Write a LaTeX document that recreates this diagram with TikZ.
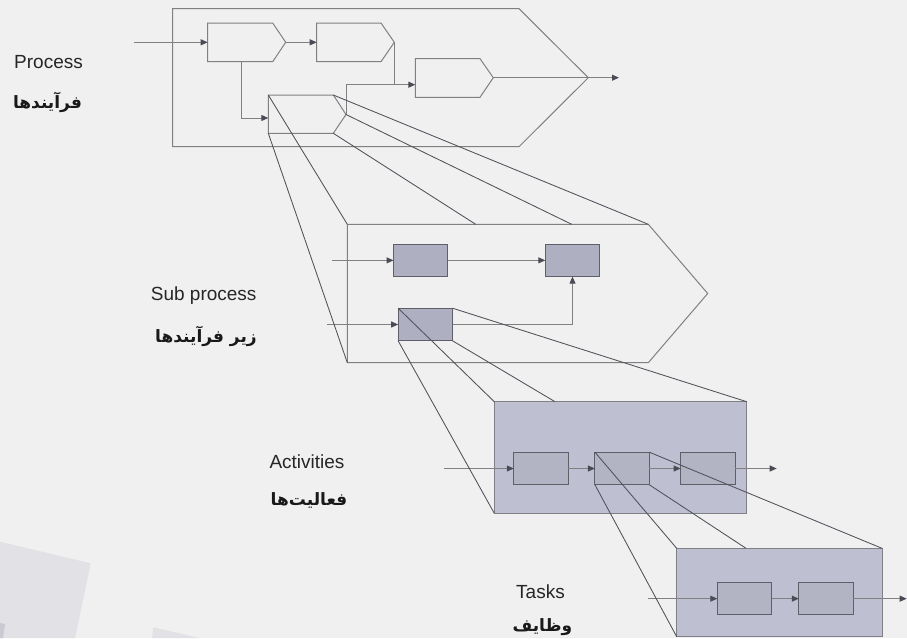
\documentclass[tikz,border=0pt]{standalone}
\usepackage{fontspec}
\setmainfont{Liberation Sans}
\newfontfamily\farsi[Script=Arabic]{DejaVu Sans}
\TeXXeTstate=1
\usetikzlibrary{arrows.meta}
\definecolor{pagebg}{HTML}{F0F0F0}
\definecolor{tilegray}{HTML}{E1E1E6}
\definecolor{tiledark}{HTML}{CACAD2}
\definecolor{linegray}{HTML}{808080}
\definecolor{tipgray}{HTML}{4B4B55}
\definecolor{boxline}{HTML}{5F5F6A}
\definecolor{subfill}{HTML}{AEAFC1}
\definecolor{actfill}{HTML}{BEBFD1}
\definecolor{cellfill}{HTML}{B2B3C3}
\begin{document}
\begin{tikzpicture}[x=1pt,y=-1pt,
  edge/.style={draw=linegray,line width=1pt},
  flow/.style={edge,-{Triangle[length=7pt,width=6pt,color=tipgray]}},
  zoomline/.style={draw=boxline!85!black,line width=0.85pt},
  cell/.style={draw=boxline,line width=1pt,fill=#1,inner sep=0pt,outer sep=0pt,
    minimum width=54.4pt,minimum height=32.6pt},
  frame/.style={draw=boxline!80,line width=1pt,fill=actfill,inner sep=0pt,outer sep=0pt},
  en/.style={anchor=base west,inner sep=0pt,font=\fontsize{19}{22}\selectfont,text=black!85},
  fa/.style={inner sep=0pt,font=\farsi\bfseries\fontsize{17}{20}\selectfont,text=black!90}
]
\useasboundingbox (0,0) rectangle (907,638);
\fill[pagebg] (0,0) rectangle (907,638);

% faint tiles in the lower left corner
\fill[tilegray] (0,541.7) -- (90.7,563.3) -- (75,638) -- (0,638) -- cycle;
\fill[tiledark] (0,623) -- (5,624) -- (3,638) -- (0,638) -- cycle;
\fill[tilegray] (153.3,627.3) -- (199,638) -- (152,638) -- cycle;

% ---------------- Process level ----------------
\draw[edge] (172.7,8.7) coordinate (Pnw) -- (519,8.7) coordinate (Pne)
  -- (588.3,77.7) coordinate (Ptip) -- (519,146.7) coordinate (Pse)
  -- (172.7,146.7) coordinate (Psw) -- cycle;

\draw[edge] (207.7,23) coordinate (p1nw) -- (272.7,23) -- (285.7,42.3) coordinate (p1tip)
  -- (272.7,61.7) -- (207.7,61.7) coordinate (p1sw) -- cycle;
\coordinate (p1w) at (207.7,42.3);
\coordinate (p1s) at (241,61.7);

\draw[edge] (316.7,23) -- (381,23) -- (394.3,42.3) coordinate (p2tip)
  -- (381,61.7) -- (316.7,61.7) -- cycle;
\coordinate (p2w) at (316.7,42.3);

\draw[edge] (415.3,58.7) -- (480,58.7) -- (493.3,77.7) coordinate (p3tip)
  -- (480,97.3) -- (415.3,97.3) -- cycle;
\coordinate (p3w) at (415.3,84.7);

\draw[edge] (268.3,95) coordinate (p4nw) -- (333.3,95) coordinate (p4ne)
  -- (346,114.5) coordinate (p4tip) -- (333.3,133.3) coordinate (p4se)
  -- (268.3,133.3) coordinate (p4sw) -- cycle;
\coordinate (p4w) at (268.3,118);

\coordinate (pin) at (134,42.3);
\coordinate (pout) at (619,77.7);
\coordinate (pjoin) at (394.3,84.7);

\draw[flow] (pin) -- (p1w);
\draw[flow] (p1tip) -- (p2w);
\draw[flow] (p2tip) -- (pjoin) -- (p3w);
\draw[edge] (p4tip) -- (p4tip |- pjoin) -- (pjoin);
\draw[flow] (p1s) -- (p1s |- p4w) -- (p4w);
\draw[edge] (p3tip) -- (Ptip);
\draw[flow] (Ptip) -- (pout);

% ---------------- Sub process level ----------------
\draw[edge] (347.3,224.3) coordinate (Snw) -- (648.3,224.3) coordinate (Sne)
  -- (707.7,293.5) coordinate (Stip) -- (648.3,362.7) coordinate (Sse)
  -- (347.3,362.7) coordinate (Ssw) -- cycle;
\coordinate (Sa) at (475.7,224.3);
\coordinate (Sb) at (571.7,224.3);

\node[cell=subfill] (A) at (420.7,260.35) {};
\node[cell=subfill] (B) at (572.5,260.35) {};
\node[cell=subfill] (C) at (425.35,324.5) {};
\coordinate (ain) at (331.7,260.35);
\coordinate (cin) at (327.3,324.5);

\draw[flow] (ain) -- (A.west);
\draw[flow] (A.east) -- (B.west);
\draw[flow] (cin) -- (C.west);
\draw[flow] (C.east) -- (C.east -| B.south) -- (B.south);

% ---------------- Activities level ----------------
\node[frame,minimum width=252.4pt,minimum height=111.6pt] (R) at (620.5,457.5) {};
\coordinate (Ra) at (555,401.7);
\node[cell=cellfill] (D) at (541,468.5) {};
\node[cell=cellfill] (E) at (622.15,468.5) {};
\node[cell=cellfill] (F) at (707.85,468.5) {};
\coordinate (din) at (444,468.5);
\coordinate (fout) at (776.7,468.5);

\draw[flow] (din) -- (D.west);
\draw[flow] (D.east) -- (E.west);
\draw[flow] (E.east) -- (F.west);
\draw[flow] (F.east) -- (fout);

% ---------------- Tasks level ----------------
\node[frame,minimum width=205.3pt,minimum height=88.4pt] (T) at (779.35,592.5) {};
\coordinate (Ta) at (746,548.3);
\node[cell=cellfill] (G) at (744.5,598.65) {};
\node[cell=cellfill] (H) at (826,598.65) {};
\coordinate (gin) at (647.7,598.65);
\coordinate (hout) at (906.7,598.65);

\draw[flow] (gin) -- (G.west);
\draw[flow] (G.east) -- (H.west);
\draw[flow] (H.east) -- (hout);

% ---------------- zoom lines between levels ----------------
\draw[zoomline] (p4nw) -- (Snw);
\draw[zoomline] (p4sw) -- (Ssw);
\draw[zoomline] (p4se) -- (Sa);
\draw[zoomline] (p4tip) -- (Sb);
\draw[zoomline] (p4ne) -- (Sne);

\draw[zoomline] (C.north west) -- (R.north west);
\draw[zoomline] (C.south west) -- (R.south west);
\draw[zoomline] (C.south east) -- (Ra);
\draw[zoomline] (C.north east) -- (R.north east);

\draw[zoomline] (E.north west) -- (T.north west);
\draw[zoomline] (E.south west) -- (T.south west);
\draw[zoomline] (E.south east) -- (Ta);
\draw[zoomline] (E.north east) -- (T.north east);

% ---------------- labels ----------------
\node[en] (l1) at (14,68.3) {Process};
\node[fa] (f1) at (47.5,102) {\beginR فرآیندها\endR};
\node[en] (l2) at (150.7,300) {Sub process};
\node[fa] (f2) at (206,336) {\beginR زیر فرآیندها\endR};
\node[en] (l3) at (269.3,468.3) {Activities};
\node[fa] (f3) at (309,500) {\beginR فعالیت‌ها\endR};
\node[en] (l4) at (516,598.3) {Tasks};
\node[fa] (f4) at (542.3,627) {\beginR وظایف\endR};
\end{tikzpicture}
\end{document}
